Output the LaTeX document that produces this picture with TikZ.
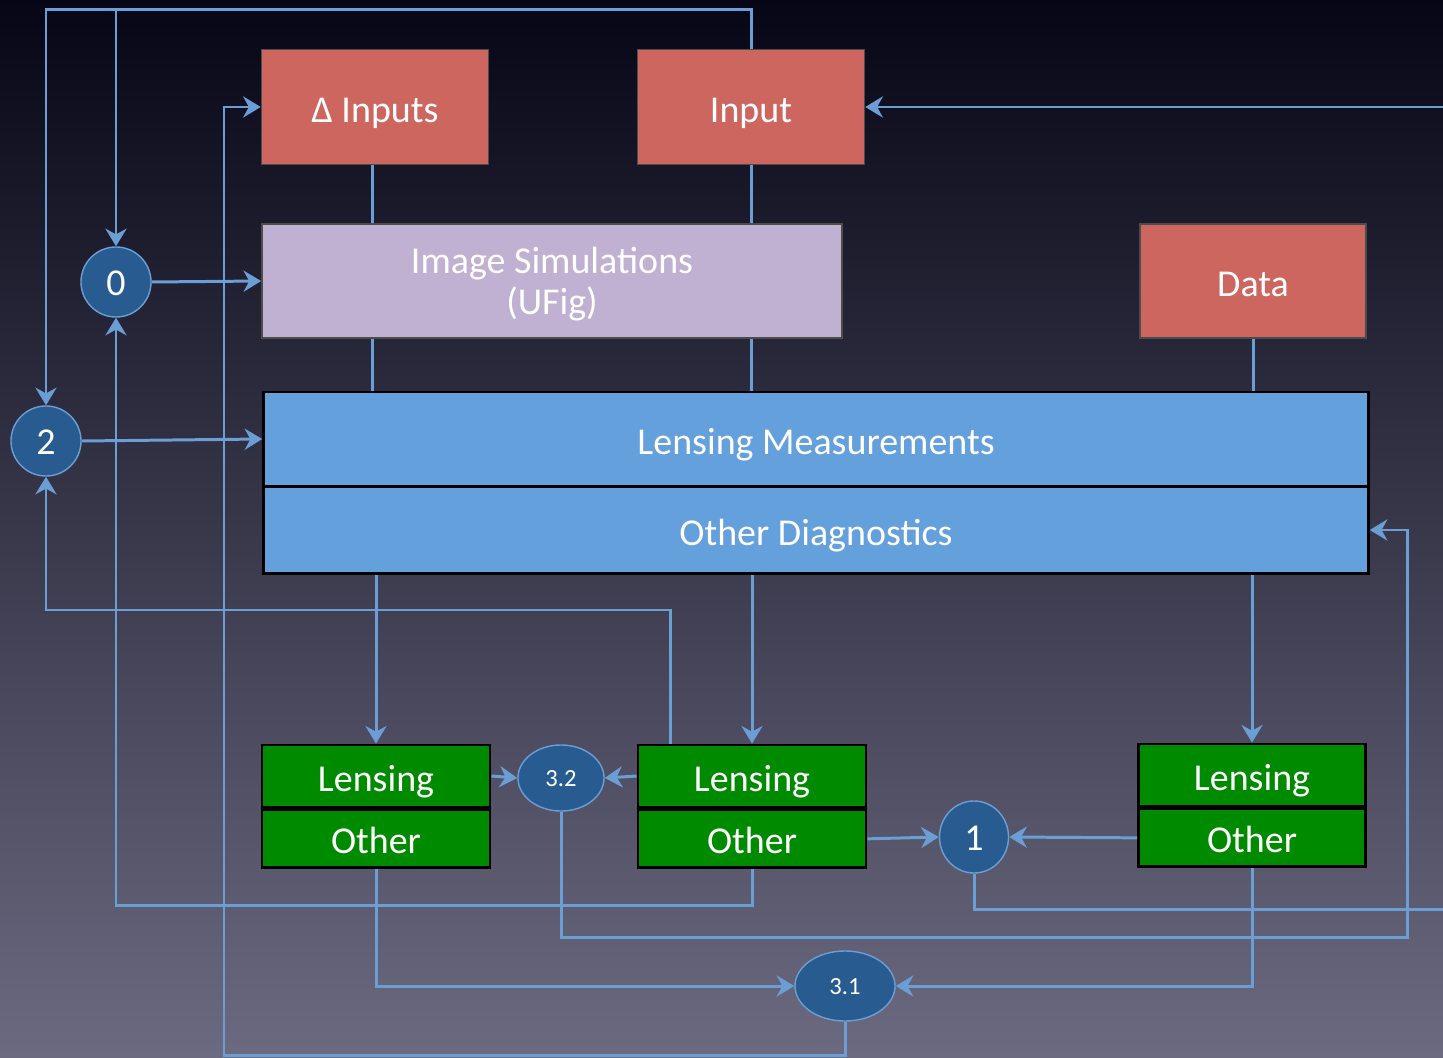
\documentclass[tikz,border=0pt]{standalone}
\usepackage{fontspec}
\setmainfont{Carlito}
\usepackage{xcolor}
\usepackage{tikz}
\usetikzlibrary{arrows.meta,shapes,backgrounds,positioning}

\definecolor{inred}{RGB}{205,102,94}
\definecolor{simlilac}{RGB}{192,176,210}
\definecolor{measblue}{RGB}{100,160,220}
\definecolor{resgreen}{RGB}{0,138,0}
\definecolor{circblue}{RGB}{40,92,145}
\definecolor{linkblue}{RGB}{108,158,214}

\begin{document}
\begin{tikzpicture}[x=0.01cm,y=-0.01cm]
      \tikzstyle{big_text}=[font=\fontsize{10.8}{11.7}\selectfont,text height=8.6pt,text depth=0pt]
      \tikzstyle{input_box}=[big_text,draw=black!70,fill=inred,text=white,inner sep=0,minimum width=2.27cm,minimum height=1.15cm]
      \tikzstyle{sim_box}=[input_box,fill=simlilac,minimum width=5.8cm,minimum height=1.14cm,align=center,text height=19pt,text depth=0pt]
      \tikzstyle{meas_box}=[big_text,draw=black,thick,fill=measblue,text=white,inner sep=0,minimum width=11.04cm]
      \tikzstyle{res_box}=[big_text,draw=black,thick,fill=resgreen,text=white,inner sep=0,minimum width=2.28cm]
      \tikzstyle{check_node}=[big_text,circle,draw=linkblue,fill=circblue,text=white,inner sep=0,minimum size=0.7cm,text height=7.4pt]
      \tikzstyle{check_oval}=[check_node,ellipse,font=\fontsize{7}{8}\selectfont,text height=4.6pt]
      \tikzstyle{link}=[draw=linkblue,line width=0.85pt]
      \tikzstyle{link_arrow}=[link,-{Stealth[length=5pt,width=6pt]}]

      % background
      \useasboundingbox (0,0) rectangle (1443,1058);
      \fill [top color={rgb,255:red,6;green,6;blue,22},middle color={rgb,255:red,38;green,36;blue,66},
             bottom color={rgb,255:red,108;green,106;blue,128}] (0,0) rectangle (1443,1058);

      % inputs and simulation
      \node [input_box] (dinputs) at (375,107) {Δ Inputs};
      \node [input_box] (input) at (751,107) {Input};
      \node [sim_box] (sim) at (552,281) {Image Simulations\\(UFig)};
      \node [input_box,minimum width=2.26cm,minimum height=1.14cm] (data) at (1253,281) {Data};

      % measurements
      \node [meas_box,minimum height=0.94cm] (meas) at (816,439) {Lensing Measurements};
      \node [meas_box,minimum height=0.87cm] (diag) at (816,530) {Other Diagnostics};

      % results
      \node [res_box,minimum height=0.62cm] (llens) at (376,776) {Lensing};
      \node [res_box,minimum height=0.58cm] (lother) [below=0pt of llens] {Other};
      \node [res_box,minimum height=0.62cm] (mlens) at (752,776) {Lensing};
      \node [res_box,minimum height=0.58cm] (mother) [below=0pt of mlens] {Other};
      \node [res_box,minimum height=0.62cm,minimum width=2.27cm] (rlens) at (1252,775) {Lensing};
      \node [res_box,minimum height=0.58cm,minimum width=2.27cm] (rother) [below=0pt of rlens] {Other};

      % checks
      \node [check_node] (n0) at (116,282) {0};
      \node [check_node] (n2) at (46,441) {2};
      \node [check_oval,minimum width=0.86cm,minimum height=0.66cm] (n32) at (561,778) {3.2};
      \node [check_node,ellipse,minimum width=0.69cm,minimum height=0.72cm] (n1) at (974,837) {1};
      \node [check_oval,minimum width=1.0cm,minimum height=0.7cm] (n31) at (845,986) {3.1};

      \coordinate (top_bus) at (0,10);
      \coordinate (bottom_bus) at (0,1055);
      \coordinate (left_bus) at (224,0);
      \coordinate (fb_two) at (670,610);
      \coordinate (fb_zero) at (0,905);
      \coordinate (fb_diag) at (1407,937);
      \coordinate (right_out) at (1443,909);
      \coordinate (right_in) at (1443,107);

      % plain links
      \draw [link] (dinputs.south -| 372,0) -- (sim.north -| 372,0);
      \draw [link] (input.south) -- (input.south |- sim.north);
      \draw [link] (sim.south -| 372,0) -- (meas.north -| 372,0);
      \draw [link] (input.south |- sim.south) -- (input.south |- meas.north);
      \draw [link] (data.south) -- (data.south |- meas.north);

      % arrows
      \draw [link_arrow] (input.north) |- (n2.north |- top_bus) -- (n2.north);
      \draw [link_arrow] (n0.north |- top_bus) -- (n0.north);
      \draw [link_arrow] (n0.east) -- (sim.west);
      \draw [link_arrow] (n2.east) -- (meas.west);
      \draw [link_arrow] (n31.south) -- (n31.south |- bottom_bus) -| (left_bus |- dinputs.west) -- (dinputs.west);
      \draw [link_arrow] (mlens.north -| fb_two) -- (fb_two) -| (n2.south);
      \draw [link_arrow] (mother.south) -- (mother.south |- fb_zero) -| (n0.south);
      \draw [link_arrow] (llens.north |- diag.south) -- (llens.north);
      \draw [link_arrow] (mlens.north |- diag.south) -- (mlens.north);
      \draw [link_arrow] (rlens.north |- diag.south) -- (rlens.north);
      \draw [link_arrow] (llens.east) -- (n32.west);
      \draw [link_arrow] (mlens.west) -- (n32.east);
      \draw [link_arrow] (n32.south) |- (fb_diag) |- (diag.east);
      \draw [link_arrow] (mother.east) -- (n1.west);
      \draw [link_arrow] (rother.west) -- (n1.east);
      \draw [link] (n1.south) |- (right_out);
      \draw [link_arrow] (right_in) -- (input.east);
      \draw [link_arrow] (lother.south) |- (n31.west);
      \draw [link_arrow] (rother.south) |- (n31.east);

\end{tikzpicture}
\end{document}
